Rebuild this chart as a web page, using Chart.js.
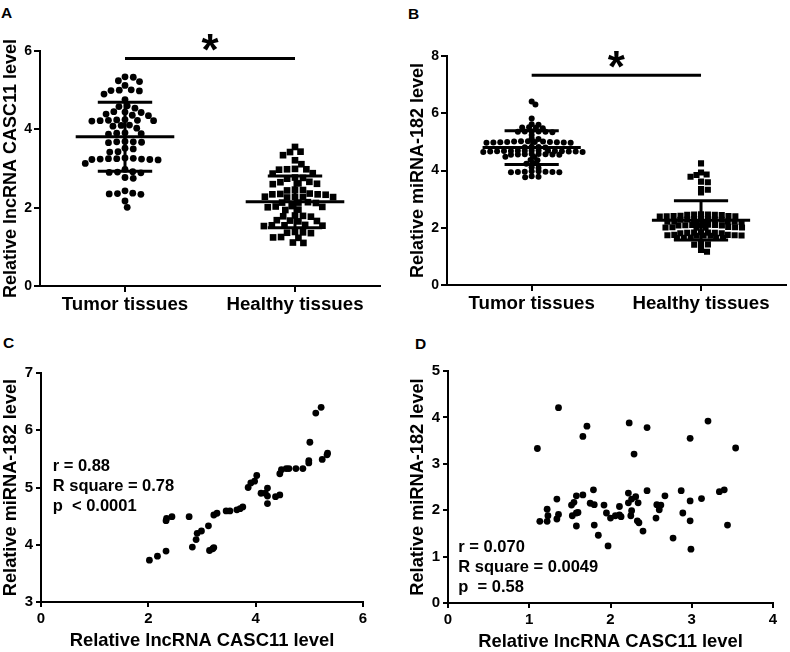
<!DOCTYPE html>
<html>
<head>
<meta charset="utf-8">
<script src="https://cdn.jsdelivr.net/npm/chart.js@4.4.1/dist/chart.umd.min.js"></script>
<style>
    body { margin: 0; width: 790px; height: 652px; position: relative; overflow: hidden; background: #fff; font-family: "Liberation Sans", Arial, sans-serif; }
    canvas { position: absolute; }
    .tag { position: absolute; font-weight: bold; font-size: 15.5px; line-height: 16px; color: #000; }
</style>
</head>
<body>
<div class="tag" style="left:1px;top:5px">A</div>
<div class="tag" style="left:408px;top:6px">B</div>
<div class="tag" style="left:3px;top:335px">C</div>
<div class="tag" style="left:415px;top:336px">D</div>
<canvas id="chartA" width="395" height="320" style="left:0;top:0"></canvas>
<canvas id="chartB" width="395" height="320" style="left:395px;top:0"></canvas>
<canvas id="chartC" width="395" height="332" style="left:0;top:320px"></canvas>
<canvas id="chartD" width="395" height="332" style="left:395px;top:320px"></canvas>
<script>
const FONT = "'Liberation Sans', Arial, sans-serif";

// ---- data ----
const groupLabels = ["Tumor tissues", "Healthy tissues"];

const casc11Tumor = [5.34, 5.33, 5.24, 5.22, 5.12, 5.01, 5.0, 4.99, 4.98, 4.9, 4.76, 4.6, 4.58, 4.54, 4.45, 4.44, 4.43,
    4.39, 4.36, 4.35, 4.25, 4.24, 4.23, 4.23, 4.22, 4.22, 4.21, 4.11, 4.1, 4.08, 4.03, 3.91, 3.9, 3.89, 3.88,
    3.69, 3.68, 3.68, 3.67, 3.66, 3.52, 3.5, 3.43, 3.42, 3.27, 3.26, 3.25, 3.25, 3.24, 3.24, 3.23, 3.23, 3.22,
    3.13, 2.98, 2.92, 2.91, 2.9, 2.89, 2.77, 2.75, 2.43, 2.37, 2.36, 2.35, 2.34, 2.17, 2.01];
const casc11Healthy = [3.55, 3.43, 3.42, 3.34, 3.21, 3.11, 2.99, 2.98, 2.98, 2.97, 2.88, 2.87, 2.77, 2.76, 2.74, 2.66,
    2.65, 2.62, 2.61, 2.6, 2.46, 2.45, 2.44, 2.36, 2.35, 2.34, 2.34, 2.33, 2.28, 2.28, 2.27, 2.27, 2.26, 2.14,
    2.13, 2.13, 2.12, 2.04, 2.03, 2.02, 2.01, 1.95, 1.94, 1.8, 1.79, 1.78, 1.77, 1.68, 1.67, 1.66, 1.65, 1.56,
    1.55, 1.55, 1.54, 1.53, 1.38, 1.37, 1.36, 1.35, 1.25, 1.24, 1.23, 1.11, 1.1];
const casc11Mean = [3.81, 2.15];
const casc11Sd = [0.88, 0.66];

const mir182Tumor = [6.41, 6.31, 5.82, 5.62, 5.6, 5.51, 5.5, 5.49, 5.48, 5.37, 5.36, 5.36, 5.35, 5.35, 5.34, 5.24,
    5.12, 5.1, 5.02, 5.02, 5.01, 5.01, 5.0, 5.0, 5.0, 4.99, 4.99, 4.98, 4.98, 4.97, 4.97, 4.83, 4.82, 4.81, 4.8,
    4.7, 4.7, 4.69, 4.69, 4.69, 4.68, 4.68, 4.68, 4.67, 4.67, 4.66, 4.66, 4.66, 4.65, 4.65, 4.58, 4.58, 4.57,
    4.57, 4.56, 4.56, 4.55, 4.55, 4.48, 4.47, 4.37, 4.36, 4.26, 4.24, 4.11, 4.09, 3.97, 3.97, 3.96, 3.96, 3.95,
    3.95, 3.94, 3.94, 3.8, 3.78, 3.76];
const mir182Healthy = [4.25, 3.93, 3.86, 3.84, 3.78, 3.61, 3.59, 3.35, 3.33, 3.23, 2.47, 2.46, 2.46, 2.45, 2.45,
    2.44, 2.42, 2.41, 2.41, 2.4, 2.4, 2.39, 2.31, 2.3, 2.3, 2.29, 2.29, 2.28, 2.28, 2.22, 2.22, 2.21, 2.21, 2.2,
    2.2, 2.19, 2.11, 2.1, 2.1, 2.09, 2.09, 2.08, 2.08, 2.03, 2.02, 2.02, 2.01, 2.01, 2.0, 2.0, 1.84, 1.83, 1.83,
    1.82, 1.82, 1.81, 1.81, 1.75, 1.75, 1.74, 1.74, 1.73, 1.73, 1.72, 1.72, 1.66, 1.65, 1.65, 1.64, 1.64, 1.43,
    1.42, 1.41, 1.22, 1.16];
const mir182Mean = [4.80, 2.26];
const mir182Sd = [0.59, 0.685];

// correlation, tumor samples (C)
const corrTumorX = [2.02, 2.17, 2.33, 2.33, 2.34, 2.44, 2.76, 2.82, 2.89, 2.91, 2.99, 3.12, 3.14, 3.2, 3.22, 3.22,
    3.28, 3.45, 3.52, 3.65, 3.71, 3.76, 3.86, 3.91, 3.98, 4.02, 4.1, 4.18, 4.22, 4.22, 4.22, 4.37, 4.45, 4.45,
    4.48, 4.57, 4.62, 4.75, 4.88, 4.99, 4.99, 5.01, 5.12, 5.22, 5.24, 5.33, 5.34];
const corrTumorY = [3.73, 3.8, 3.89, 4.42, 4.46, 4.49, 4.49, 3.96, 4.09, 4.2, 4.24, 4.33, 3.9, 3.93, 3.95, 4.52,
    4.55, 4.59, 4.59, 4.61, 4.63, 4.66, 5.0, 5.08, 5.11, 5.21, 4.9, 4.9, 4.99, 4.85, 4.72, 4.84, 4.87, 5.24,
    5.31, 5.33, 5.33, 5.33, 5.33, 5.43, 5.47, 5.79, 6.3, 6.4, 5.49, 5.57, 5.6];
const corrTumorStats = ["r = 0.88", "R square = 0.78", "p  < 0.0001"];

// correlation, healthy samples (D)
const corrHealthyX = [1.1, 1.36, 1.71, 1.66, 2.23, 2.45, 2.29, 2.98, 3.2, 3.54, 1.13, 1.22, 1.23, 1.22, 1.34, 1.34,
    1.36, 1.52, 1.55, 1.53, 1.58, 1.58, 1.6, 1.58, 1.66, 1.75, 1.79, 1.8, 1.8, 1.85, 1.92, 1.95, 1.97, 2.0,
    2.06, 2.11, 2.11, 2.13, 2.22, 2.22, 2.25, 2.26, 2.26, 2.31, 2.34, 2.33, 2.35, 2.4, 2.45, 2.56, 2.57, 2.6,
    2.62, 2.67, 2.77, 2.87, 2.89, 2.98, 2.98, 2.99, 3.12, 3.34, 3.4, 3.44];
const corrHealthyY = [3.33, 4.21, 3.81, 3.59, 3.88, 3.78, 3.21, 3.55, 3.92, 3.34, 1.76, 2.02, 1.88, 1.76, 2.24, 1.81,
    1.91, 2.11, 2.17, 1.88, 2.31, 1.94, 1.95, 1.66, 2.33, 2.15, 2.44, 2.12, 1.68, 1.46, 2.11, 1.94, 1.23, 1.83,
    1.88, 2.08, 1.9, 1.86, 2.37, 2.16, 1.88, 2.24, 1.99, 2.29, 2.16, 1.77, 1.73, 1.55, 2.42, 1.83, 2.12, 2.01,
    2.11, 2.31, 1.4, 2.42, 1.94, 2.2, 1.77, 1.16, 2.25, 2.4, 2.44, 1.68];
const corrHealthyStats = ["r = 0.070", "R square = 0.0049", "p  = 0.58"];

Chart.defaults.font.family = FONT;
Chart.defaults.font.weight = "bold";
Chart.defaults.color = "#000";
Chart.defaults.animation = false;
Chart.defaults.plugins.legend.display = false;
Chart.defaults.plugins.tooltip.enabled = false;

// spread points sideways so they do not overlap (beeswarm);
// gx = horizontal spacing, gy = vertical distance under which points collide
function swarm(values, center, yPx, xPx, gx, gy) {
    const placed = [];
    const k = gx / gy;
    return values.slice().sort((a, b) => b - a).map(v => {
        const y = v * yPx * k;
        const near = placed.filter(p => Math.abs(p.y - y) < gx);
        const cands = [0];
        near.forEach(p => {
            const dx = Math.sqrt(gx * gx - (p.y - y) ** 2);
            cands.push(p.x + dx, p.x - dx);
        });
        cands.sort((a, b) => Math.abs(a) - Math.abs(b));
        const x = cands.find(c => near.every(p => (p.x - c) ** 2 + (p.y - y) ** 2 >= gx * gx - 0.01));
        placed.push({ x, y });
        return { x: center + x / xPx, y: v };
    });
}

function axis(min, max, step, size, tick, title) {
    return {
        type: "linear", min, max,
        ticks: { stepSize: step, padding: tick.pad, font: { size: tick.size, weight: "bold" }, color: "#000" },
        grid: { drawOnChartArea: false, drawTicks: true, tickLength: tick.len, color: "#000", lineWidth: 2 },
        border: { display: true, color: "#000", width: 2 },
        title: title
            ? { display: true, text: title.text, color: "#000", font: { size: title.size, weight: "bold" }, padding: title.pad }
            : { display: false },
        afterFit: s => { if (s.isHorizontal()) s.height = size; else s.width = size; }
    };
}

// mean / SD bars and significance bar for the dot plots
const summaryPlugin = {
    id: "summary",
    afterDatasetsDraw(chart, args, opts) {
        if (!opts.means) return;
        const { ctx, scales: { x, y } } = chart;
        const seg = (x1, y1, x2, y2) => { ctx.beginPath(); ctx.moveTo(x1, y1); ctx.lineTo(x2, y2); ctx.stroke(); };
        ctx.save();
        ctx.strokeStyle = "#000";
        ctx.lineWidth = 3;
        opts.means.forEach((m, i) => {
            const c = i + 1;
            const top = y.getPixelForValue(m + opts.sds[i]);
            const bot = y.getPixelForValue(m - opts.sds[i]);
            const my = y.getPixelForValue(m);
            seg(x.getPixelForValue(c - 0.29), my, x.getPixelForValue(c + 0.29), my);
            seg(x.getPixelForValue(c), top, x.getPixelForValue(c), bot);
            seg(x.getPixelForValue(c - 0.16), top, x.getPixelForValue(c + 0.16), top);
            seg(x.getPixelForValue(c - 0.16), bot, x.getPixelForValue(c + 0.16), bot);
        });
        const by = y.getPixelForValue(opts.bar);
        const x1 = x.getPixelForValue(1), x2 = x.getPixelForValue(2);
        seg(x1, by, x2, by);
        ctx.fillStyle = "#000";
        ctx.font = "bold 44px " + FONT;
        ctx.textAlign = "center";
        ctx.textBaseline = "alphabetic";
        const mt = ctx.measureText("*");
        const cy = by - opts.lift;
        ctx.fillText("*", (x1 + x2) / 2, cy + (mt.actualBoundingBoxAscent - mt.actualBoundingBoxDescent) / 2);
        ctx.restore();
    }
};

// r / R square / p text block
const statsPlugin = {
    id: "stats",
    afterDraw(chart, args, opts) {
        if (!opts.lines) return;
        const { ctx } = chart;
        ctx.save();
        ctx.fillStyle = "#000";
        ctx.font = "bold 16.5px " + FONT;
        ctx.textAlign = "left";
        ctx.textBaseline = "alphabetic";
        opts.lines.forEach((t, i) => ctx.fillText(t, opts.x, opts.y + i * 20));
        ctx.restore();
    }
};

Chart.register(summaryPlugin, statsPlugin);

function dotPlot(id, geo, groups, shapes, sizes, gaps, yMax, yTitle, means, sds, bar) {
    const plotH = geo.h - geo.pad.top - geo.xH;
    const plotW = geo.w - geo.pad.left - geo.yW - geo.pad.right;
    const datasets = groups.map((vals, i) => ({
        data: swarm(vals, i + 1, plotH / yMax, plotW / 2, gaps[i][0], gaps[i][1]),
        pointStyle: shapes[i],
        pointRadius: sizes[i],
        pointHoverRadius: sizes[i],
        backgroundColor: "#000",
        borderWidth: 0
    }));
    const xAxis = axis(0.5, 2.5, 1, geo.xH, { size: 18.7, len: 6, pad: 2 });
    xAxis.afterBuildTicks = s => { s.ticks = groupLabels.map((_, i) => ({ value: i + 1 })); };
    xAxis.ticks.callback = v => groupLabels[v - 1];
    new Chart(document.getElementById(id).getContext("2d"), {
        type: "scatter",
        data: { datasets },
        options: {
            responsive: false,
            layout: { padding: geo.pad },
            scales: {
                x: xAxis,
                y: axis(0, yMax, 2, geo.yW, { size: 14, len: 6, pad: 2 }, { text: yTitle, size: 18, pad: { top: 0, bottom: 0 } })
            },
            plugins: { summary: { means, sds, bar: bar.value, lift: bar.lift } }
        }
    });
}

function corrPlot(id, geo, xs, ys, xr, yr, stats) {
    const data = xs.map((v, i) => ({ x: v, y: ys[i] }));
    new Chart(document.getElementById(id).getContext("2d"), {
        type: "scatter",
        data: { datasets: [{ data, pointStyle: "circle", pointRadius: 3.4, pointHoverRadius: 3.4, backgroundColor: "#000", borderWidth: 0 }] },
        options: {
            responsive: false,
            layout: { padding: geo.pad },
            scales: {
                x: axis(xr[0], xr[1], xr[2], geo.xH, { size: 15, len: 5, pad: 3 },
                    { text: "Relative lncRNA CASC11 level", size: 18.4, pad: { top: 0, bottom: geo.titlePad } }),
                y: axis(yr[0], yr[1], yr[2], geo.yW, { size: 15, len: 5, pad: 3 },
                    { text: "Relative miRNA-182 level", size: 18.2, pad: { top: 0, bottom: 0 } })
            },
            plugins: { stats: { lines: stats, x: geo.textX, y: geo.textY } }
        }
    });
}

dotPlot("chartA", { w: 395, h: 320, pad: { left: 0, top: 51, right: 15, bottom: 0 }, yW: 40, xH: 34 },
    [casc11Tumor, casc11Healthy], ["circle", "rect"], [3.4, 4.7], [[8.3, 6.5], [8.0, 6.5]], 6,
    "Relative lncRNA CASC11 level", casc11Mean, casc11Sd, { value: 5.81, lift: 15.5 });

dotPlot("chartB", { w: 395, h: 320, pad: { left: 12, top: 56, right: 1, bottom: 0 }, yW: 40, xH: 35 },
    [mir182Tumor, mir182Healthy], ["circle", "rect"], [3.0, 4.3], [[7.0, 3.4], [7.0, 3.4]], 8,
    "Relative miRNA-182 level", mir182Mean, mir182Sd, { value: 7.33, lift: 16 });

corrPlot("chartC", { pad: { left: 0, top: 53, right: 32, bottom: 0 }, yW: 41, xH: 50, titlePad: 0.5, textX: 52.7, textY: 150.5 },
    corrTumorX, corrTumorY, [0, 6, 2], [3, 7, 1], corrTumorStats);

corrPlot("chartD", { pad: { left: 12, top: 51, right: 17, bottom: 0 }, yW: 41, xH: 49, titlePad: -1.3, textX: 63.3, textY: 231.7 },
    corrHealthyX, corrHealthyY, [0, 4, 1], [0, 5, 1], corrHealthyStats);
</script>
</body>
</html>
